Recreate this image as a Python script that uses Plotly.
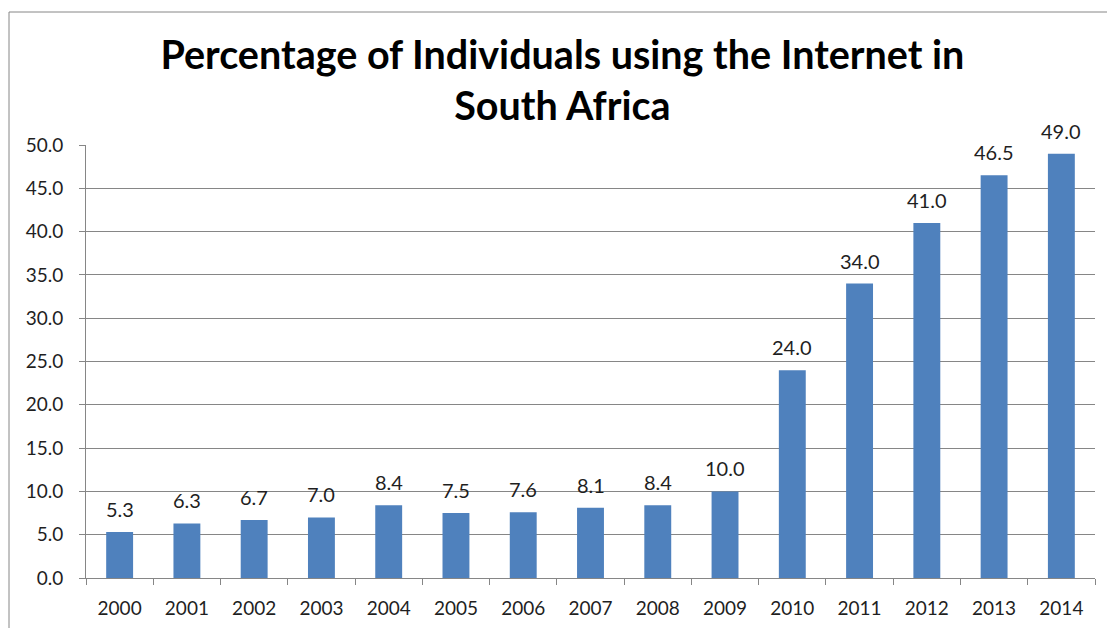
import plotly.graph_objects as go

years = ["2000", "2001", "2002", "2003", "2004", "2005", "2006", "2007",
         "2008", "2009", "2010", "2011", "2012", "2013", "2014"]
internet_pct = [5.3, 6.3, 6.7, 7.0, 8.4, 7.5, 7.6, 8.1, 8.4, 10.0,
                24.0, 34.0, 41.0, 46.5, 49.0]

W, H = 1107, 628
L, R, T, B = 86, 12, 145, 50
pw, ph = W - L - R, H - T - B

def px_x(x):
    return (x - L) / pw

def px_y(y):
    return (H - B - y) / ph

FONT = "Lato"
AXIS = "#868686"
TXT = "#1f1f1f"

fig = go.Figure(go.Bar(
    x=years,
    y=internet_pct,
    marker=dict(color="#4F81BD", line=dict(width=0)),
    hoverinfo="x+y",
))

# value labels above each bar (category index keeps year-like names from
# being read as positions)
for i, v in enumerate(internet_pct):
    fig.add_annotation(
        x=i, y=v, xref="x", yref="y",
        text=f"{v:.1f}", showarrow=False,
        yanchor="bottom", yshift=9,
        font=dict(family=FONT, size=20, color=TXT),
    )

fig.update_layout(
    width=W, height=H,
    margin=dict(l=L, r=R, t=T, b=B, autoexpand=False),
    paper_bgcolor="white",
    plot_bgcolor="white",
    showlegend=False,
    bargap=0.6,
    title=dict(
        text="<b>Percentage of Individuals using the Internet in<br>South Africa</b>",
        x=0.508, xanchor="center",
        y=1 - 69 / H, yanchor="middle",
        font=dict(family=FONT, size=39.5, color="#000000"),
    ),
    xaxis=dict(
        type="category",
        range=[-0.5, len(years) - 0.5],
        automargin=False,
        showline=True, linecolor=AXIS, linewidth=1,
        ticks="outside", tickson="boundaries", ticklen=6, tickcolor=AXIS,
        ticklabelstandoff=13,
        tickfont=dict(family=FONT, size=19, color=TXT),
        showgrid=False,
    ),
    yaxis=dict(
        range=[0, 50], dtick=5, tickformat=".1f",
        automargin=False,
        showline=True, linecolor=AXIS, linewidth=1,
        ticks="outside", ticklen=6, tickcolor=AXIS,
        ticklabelstandoff=12,
        showgrid=True, gridcolor=AXIS, gridwidth=1,
        zeroline=False,
        tickfont=dict(family=FONT, size=19, color=TXT),
    ),
    shapes=[dict(
        type="rect", xref="paper", yref="paper",
        x0=px_x(9), x1=px_x(W + 20), y0=px_y(H + 20), y1=px_y(12),
        line=dict(color=AXIS, width=1), fillcolor="rgba(0,0,0,0)",
        layer="below",
    )],
)

fig.write_html("out.html")
